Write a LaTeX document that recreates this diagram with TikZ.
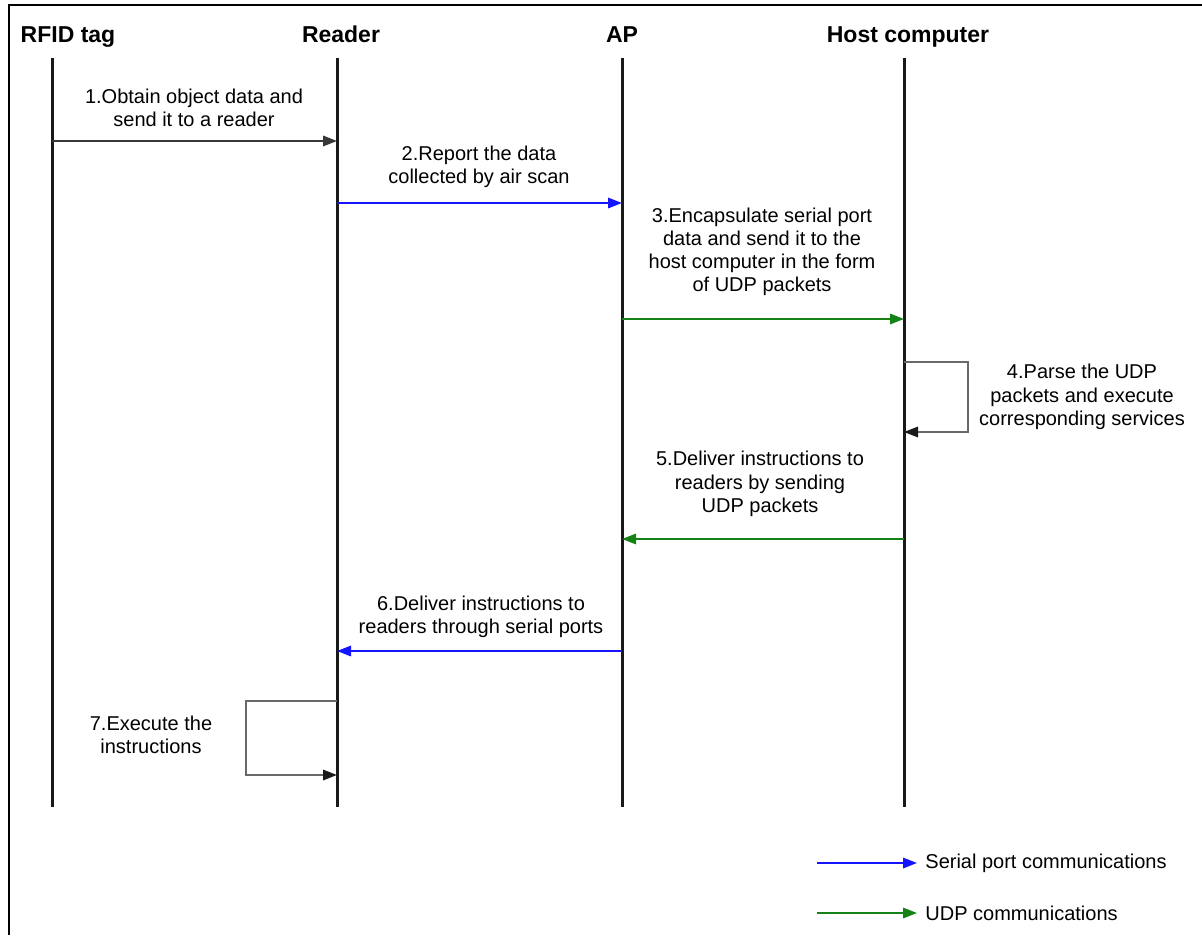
\documentclass[tikz,border=0pt]{standalone}
\usepackage{fontspec}
\setmainfont{Liberation Sans}
\usetikzlibrary{arrows.meta}
\definecolor{serialblue}{RGB}{20,20,255}
\definecolor{udpgreen}{RGB}{20,130,20}
\definecolor{msggray}{RGB}{55,55,55}
\definecolor{loopgray}{RGB}{105,105,105}
\tikzset{
  head/.style={font=\fontsize{11.5}{13}\selectfont\bfseries, inner sep=0pt, anchor=base},
  lbl/.style={font=\fontsize{10}{11.6}\selectfont, align=center, inner sep=0pt},
  lifeline/.style={line width=1.5pt, black!90},
  tip/.style={-{Triangle[length=7pt,width=5.2pt]}},
  msg/.style={tip, line width=1pt, msggray},
  serial/.style={tip, line width=1pt, serialblue},
  udp/.style={tip, line width=1pt, udpgreen},
  selfloop/.style={-{Triangle[length=7pt,width=5.2pt,color=black!90]}, line width=1pt, loopgray},
  frame/.style={line width=1pt, black}
}
\begin{document}
\begin{tikzpicture}[x=0.5pt,y=-0.5pt]
\useasboundingbox (0,0) rectangle (1202,935);
% outer frame (top and left edges)
\draw[frame] (8.5,935) -- (8.5,5.5) -- (1202,5.5);

% participants
\node[head] (tag)  at (68,43)  {RFID tag};
\node[head] (rdr)  at (341,43) {Reader};
\node[head] (ap)   at (622,43) {AP};
\node[head] (host) at (908,43) {Host computer};

% lifelines
\coordinate (tagT) at (52,58);   \coordinate (tagB) at (52,807);
\coordinate (rdrT) at (337,58);  \coordinate (rdrB) at (337,807);
\coordinate (apT)  at (622,58);  \coordinate (apB)  at (622,807);
\coordinate (hstT) at (904,58);  \coordinate (hstB) at (904,807);
\draw[lifeline] (tagT) -- (tagB);
\draw[lifeline] (rdrT) -- (rdrB);
\draw[lifeline] (apT) -- (apB);
\draw[lifeline] (hstT) -- (hstB);

% 1: tag -> reader
\coordinate (m1a) at (52,141);  \coordinate (m1b) at (337,141);
\draw[msg] (m1a) -- (m1b);
\node[lbl] (l1) at (194,108) {1.Obtain object data and\\send it to a reader};

% 2: reader -> AP
\coordinate (m2a) at (337,203); \coordinate (m2b) at (622,203);
\draw[serial] (m2a) -- (m2b);
\node[lbl] (l2) at (479,167) {2.Report the data\\collected by air scan};

% 3: AP -> host
\coordinate (m3a) at (622,319); \coordinate (m3b) at (904,319);
\draw[udp] (m3a) -- (m3b);
\node[lbl] (l3) at (762,252) {3.Encapsulate serial port\\data and send it to the\\host computer in the form\\of UDP packets};

% 4: host self call
\coordinate (m4a) at (904,362); \coordinate (m4b) at (904,432);
\draw[selfloop] (m4a) -- (968,362) -- (968,432) -- (m4b);
\node[lbl] (l4) at (1082,397) {4.Parse the UDP\\packets and execute\\corresponding services};

% 5: host -> AP
\coordinate (m5a) at (904,539); \coordinate (m5b) at (622,539);
\draw[udp] (m5a) -- (m5b);
\node[lbl] (l5) at (760,484) {5.Deliver instructions to\\readers by sending\\UDP packets};

% 6: AP -> reader
\coordinate (m6a) at (622,651); \coordinate (m6b) at (337,651);
\draw[serial] (m6a) -- (m6b);
\node[lbl] (l6) at (481,617) {6.Deliver instructions to\\readers through serial ports};

% 7: reader self call
\coordinate (m7a) at (337,701); \coordinate (m7b) at (337,775);
\draw[selfloop] (m7a) -- (246,701) -- (246,775) -- (m7b);
\node[lbl] (l7) at (151,735) {7.Execute the\\instructions};

% legend
\coordinate (lg1) at (817,863);
\coordinate (lg2) at (817,913);
\node[lbl, anchor=west, inner xsep=4pt] (lgs) at (917,863) {Serial port communications};
\node[lbl, anchor=west, inner xsep=4pt] (lgu) at (917,913) {UDP communications};
\draw[serial] (lg1) -- (lgs);
\draw[udp] (lg2) -- (lgu);
\end{tikzpicture}
\end{document}
